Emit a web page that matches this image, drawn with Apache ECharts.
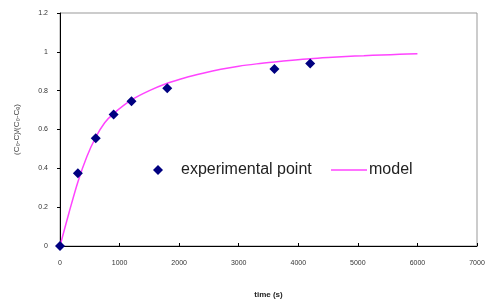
<!DOCTYPE html>
<html>
<head>
<meta charset="utf-8">
<script src="https://cdn.jsdelivr.net/npm/echarts@6/dist/echarts.min.js"></script>
<style>
  html, body { margin: 0; padding: 0; background: #fff; }
  #main { width: 500px; height: 306px; }
</style>
</head>
<body>
<div id="main"></div>
<script>
// experimental points (time s, ratio)
const expTime = [0, 300, 600, 900, 1200, 1800, 3600, 4200];
const expValue = [0, 0.375, 0.555, 0.677, 0.745, 0.812, 0.912, 0.94];

// model curve
const modelTime = [0, 150, 300, 450, 600, 750, 900, 1200, 1500, 1800, 2100, 2400, 2700, 3000, 3300, 3600, 3900, 4200, 4500, 4800, 5100, 5400, 5700, 6000];
const modelValue = [0, 0.17, 0.33, 0.46, 0.56, 0.635, 0.682, 0.752, 0.8, 0.838, 0.867, 0.89, 0.91, 0.926, 0.938, 0.948, 0.957, 0.965, 0.971, 0.976, 0.98, 0.984, 0.987, 0.99];

const xTicks = [0, 1000, 2000, 3000, 4000, 5000, 6000, 7000];
const yTicks = [0, 0.2, 0.4, 0.6, 0.8, 1, 1.2];

var myChart = echarts.init(document.getElementById('main'));

var expData = [];
for (let i = 0; i < expTime.length; i++) {
  expData.push([expTime[i], expValue[i]]);
}
var modelData = [];
for (let i = 0; i < modelTime.length; i++) {
  modelData.push([modelTime[i], modelValue[i]]);
}

var legendText = { fontSize: 16, color: '#222', fontFamily: 'Liberation Sans' };

var option = {
  animation: false,
  textStyle: { fontFamily: 'Liberation Sans' },
  grid: { left: 60, right: 23, top: 13, bottom: 60, show: true, borderColor: '#999', borderWidth: 1 },
  legend: [
    {
      left: 148, top: 157,
      itemWidth: 10, itemHeight: 10,
      textStyle: Object.assign({ padding: [0, 0, 0, 13] }, legendText),
      data: [{ name: 'experimental point', icon: 'diamond', itemStyle: { color: '#000080' } }]
    },
    {
      left: 326, top: 157,
      itemWidth: 36, itemHeight: 14,
      textStyle: Object.assign({ padding: [0, 0, 0, -3] }, legendText),
      data: [{ name: 'model', icon: 'path://M0,0 L36,0 L36,1.5 L0,1.5 Z', itemStyle: { color: '#ff44ff' } }]
    }
  ],
  xAxis: {
    type: 'value',
    min: xTicks[0], max: xTicks[xTicks.length - 1], interval: 1000,
    name: 'time (s)', nameLocation: 'middle', nameGap: 45,
    nameTextStyle: { fontSize: 8, color: '#222', fontWeight: 'bold' },
    axisLine: { lineStyle: { color: '#000', width: 1 } },
    axisTick: { inside: true, length: 3, lineStyle: { color: '#000' } },
    axisLabel: { fontSize: 7, color: '#333', margin: 14, formatter: function (v) { return String(v); } },
    splitLine: { show: false }
  },
  yAxis: {
    type: 'value',
    min: yTicks[0], max: yTicks[yTicks.length - 1], interval: 0.2,
    name: '(C\u2080-C)/(C\u2080-C\u2091)', nameLocation: 'middle', nameGap: 39,
    nameTextStyle: { fontSize: 8, color: '#444' },
    axisLine: { show: true, lineStyle: { color: '#000', width: 1 } },
    axisTick: { show: true, length: 3, lineStyle: { color: '#000' } },
    axisLabel: { fontSize: 7, color: '#333', margin: 12, formatter: function (v) { return String(v); } },
    splitLine: { show: false }
  },
  series: [
    {
      name: 'model',
      type: 'line',
      data: modelData,
      smooth: 0.3,
      showSymbol: false,
      lineStyle: { color: '#ff44ff', width: 1.5 },
      itemStyle: { color: '#ff44ff' },
      z: 2
    },
    {
      name: 'experimental point',
      type: 'scatter',
      data: expData,
      symbol: 'diamond',
      symbolSize: 10,
      itemStyle: { color: '#000080', opacity: 1 },
      z: 3
    }
  ]
};

myChart.setOption(option);
</script>
</body>
</html>
